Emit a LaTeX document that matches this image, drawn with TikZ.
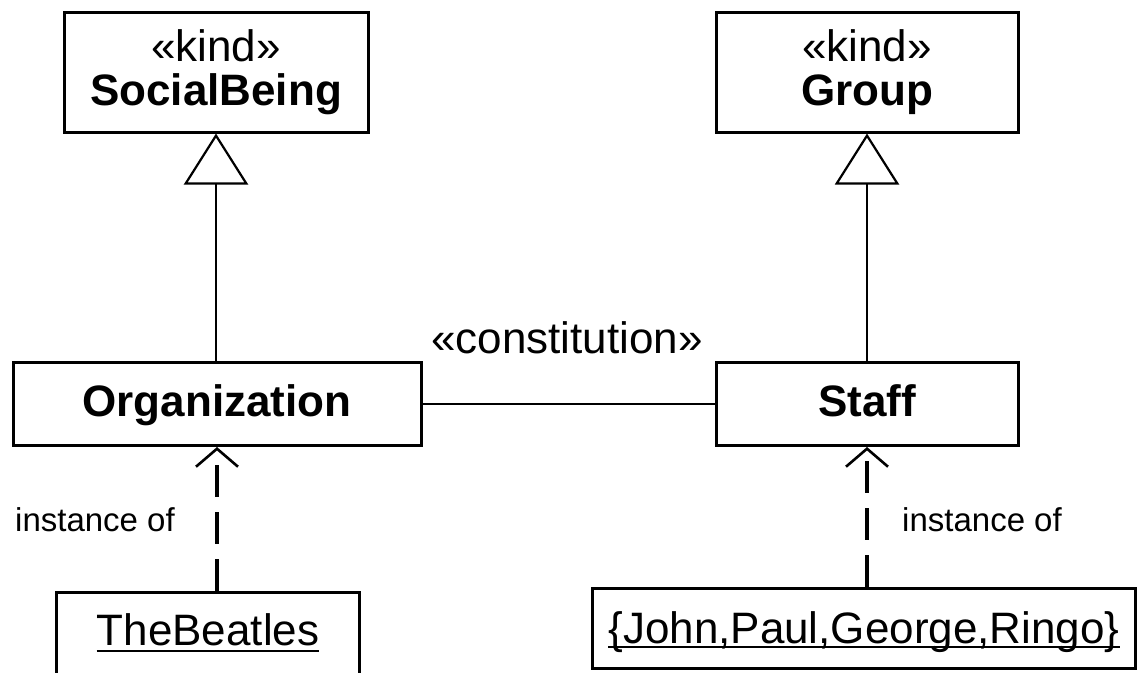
\documentclass[tikz,border=0pt]{standalone}
\usepackage{fontspec}
\setmainfont{Liberation Sans}
\usetikzlibrary{arrows.meta}

% underline at a given depth below the baseline
\newcommand\undl[2][6pt]{\setbox0\hbox{#2}\rlap{\rule[-#1]{\wd0}{2.2pt}}\box0}

\tikzset{
  umlbox/.style={draw, line width=3pt, inner sep=0pt, align=center,
                 font=\fontsize{44}{44}\selectfont},
  genline/.style={line width=1.5pt,
                  -{Triangle[open, length=51pt, width=64pt, line width=2.2pt]}},
  instline/.style={line width=3.5pt, dash pattern=on 32pt off 15pt,
                   -{Straight Barb[length=18pt, width=42pt, line width=2.6pt]}},
  assoc/.style={line width=1.5pt},
  lbl/.style={inner sep=0pt, anchor=base, font=\fontsize{44}{44}\selectfont},
  smalllbl/.style={inner sep=0pt, anchor=base west, font=\fontsize{33}{36}\selectfont}
}

\begin{document}
\begin{tikzpicture}[x=1pt, y=-1pt]
\useasboundingbox (0,0) rectangle (1140,672);

% classes
\node[umlbox, minimum width=304pt, minimum height=120pt] (social) at (216,72)
  {«kind»\\\textbf{SocialBeing}};
\node[umlbox, minimum width=302pt, minimum height=120pt] (group) at (867,72)
  {«kind»\\\textbf{Group}};
\node[umlbox, minimum width=408pt, minimum height=83pt,
      text height=34pt, text depth=10pt] (org) at (217,404)
  {\textbf{Organization}};
\node[umlbox, minimum width=302pt, minimum height=83pt,
      text height=34pt, text depth=10pt] (staff) at (867,404)
  {\textbf{Staff}};

% instances
\node[umlbox, minimum width=303pt, minimum height=88pt,
      text height=32pt, text depth=14pt] (beatles) at (208,636)
  {\undl[7pt]{TheBeatles}};
\node[umlbox, minimum width=543pt, minimum height=80pt,
      text height=36pt, text depth=6pt] (members) at (864,628)
  {\undl[5pt]{\{John,Paul,George,Ringo\}}};

% generalizations
\draw[genline] (org.north -| social.south) -- (social.south);
\draw[genline] (staff.north) -- (group.south);

% constitution association
\draw[assoc] (org.east) -- (staff.west);
\node[lbl] (constlbl) at (567,353) {«constitution»};

% instantiation links
\draw[instline] (beatles.north -| org.south) -- (org.south);
\draw[instline] (members.north -| staff.south) -- (staff.south);
\node[smalllbl] (instl) at (15,531) {instance of};
\node[smalllbl] (instr) at (902,531) {instance of};
\end{tikzpicture}
\end{document}
